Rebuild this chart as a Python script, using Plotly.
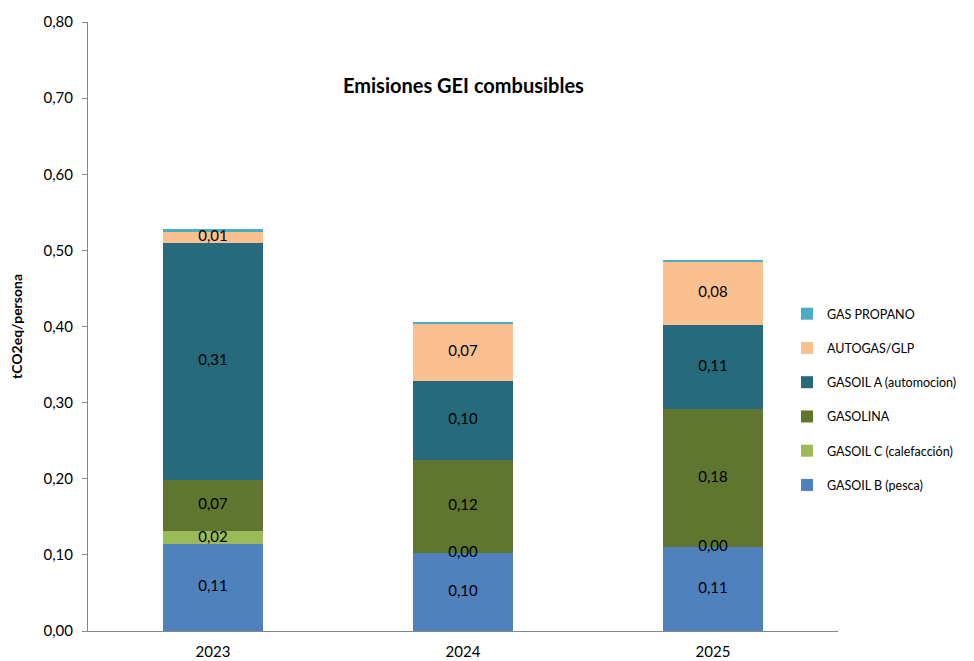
import plotly.graph_objects as go
import numpy as np

years = ["2023", "2024", "2025"]
series_names = ["GASOIL B (pesca)", "GASOIL C (calefacción)", "GASOLINA",
                "GASOIL A (automocion)", "AUTOGAS/GLP", "GAS PROPANO"]
gasoil_b = [0.114, 0.102, 0.110]
gasoil_c = [0.017, 0.0, 0.0]
gasolina = [0.068, 0.123, 0.182]
gasoil_a = [0.311, 0.104, 0.110]
autogas = [0.014, 0.074, 0.083]
propano = [0.004, 0.0035, 0.0026]
show_labels = [True, True, True, True, True, False]
colors = ["#4F81BD", "#9BBB59", "#5F7530", "#276A7C", "#FAC090", "#4BACC6"]

FONT = "Lato"
values = [gasoil_b, gasoil_c, gasolina, gasoil_a, autogas, propano]
n = len(series_names)

fig = go.Figure()
for i, (name, vals, col) in enumerate(zip(series_names, values, colors)):
    fig.add_trace(go.Bar(x=years, y=vals, name=name, marker=dict(color=col, line=dict(width=0)),
                         legendgroup=name, legendrank=n - i, hoverinfo="skip"))

# labels as text at segment centers
base = np.zeros(len(years))
lx, ly, lt = [], [], []
for vals, show in zip(values, show_labels):
    v = np.array(vals)
    if show:
        for j in range(len(years)):
            lx.append(years[j])
            ly.append(base[j] + v[j] / 2)
            lt.append(f"{v[j]:.2f}".replace(".", ","))
    base += v
fig.add_trace(go.Scatter(x=lx, y=ly, text=lt, mode="text", showlegend=False,
                         textfont=dict(family=FONT, size=15, color="#000000"),
                         hoverinfo="skip"))

fig.update_layout(
    width=966, height=653,
    barmode="stack", bargap=0.6,
    separators=",.",
    plot_bgcolor="white", paper_bgcolor="white",
    margin=dict(l=80, r=136, t=14, b=30, autoexpand=False),
    font=dict(family=FONT, size=14, color="#000000"),
    legend=dict(x=0.932, xanchor="left", y=0.38, yanchor="middle",
                traceorder="grouped", tracegroupgap=15,
                font=dict(family=FONT, size=12.5, color="#000000"),
                itemwidth=30),
    annotations=[dict(text="<b>Emisiones GEI combusibles</b>", x=0.5, y=0.897,
                      xref="paper", yref="paper", showarrow=False,
                      xanchor="center", yanchor="middle",
                      font=dict(family=FONT, size=20, color="#000000"))],
    showlegend=True,
)
fig.update_yaxes(range=[0, 0.8], dtick=0.1, tickformat=".2f", showgrid=False,
                 showline=True, linecolor="#868686", linewidth=1,
                 ticks="outside", ticklen=5, tickcolor="#868686",
                 ticklabelstandoff=6,
                 tickfont=dict(family=FONT, size=15),
                 title=dict(text="<b>tCO2eq/persona</b>", font=dict(family=FONT, size=14), standoff=32),
                 zeroline=False)
fig.update_xaxes(showline=True, linecolor="#868686", linewidth=1, showgrid=False,
                 tickfont=dict(family=FONT, size=15),
                 ticks="outside", ticklen=7, tickcolor="rgba(0,0,0,0)")

fig.write_html("out.html")
